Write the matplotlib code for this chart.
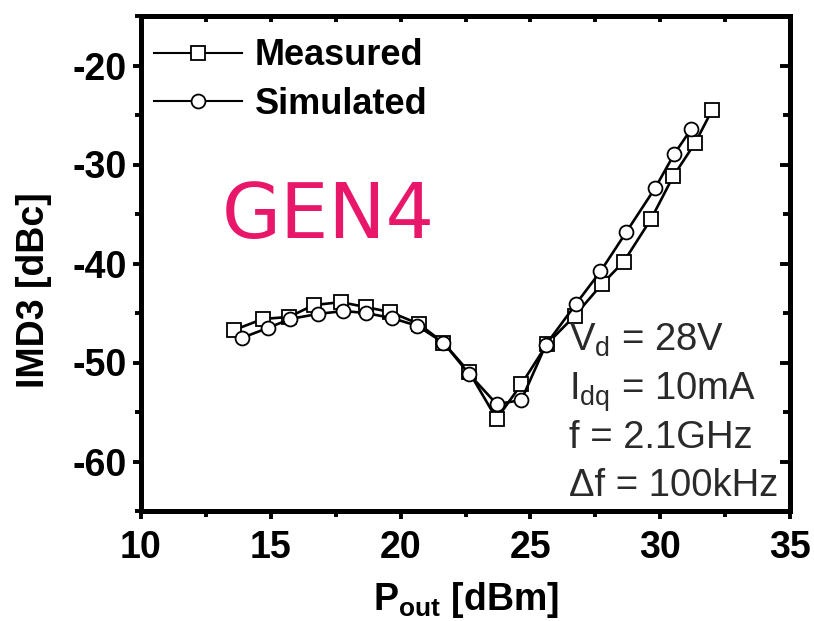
import matplotlib
matplotlib.use("Agg")
import matplotlib.pyplot as plt
from matplotlib.ticker import MultipleLocator

plt.rcParams['font.family'] = ['Liberation Sans', 'DejaVu Sans']
plt.rcParams['mathtext.fontset'] = 'custom'
plt.rcParams['mathtext.rm'] = 'Liberation Sans'
plt.rcParams['mathtext.bf'] = 'Liberation Sans:bold'
plt.rcParams['axes.unicode_minus'] = False

# Data
meas_x = [13.6, 14.7, 15.7, 16.65, 17.7, 18.65, 19.6, 20.7, 21.65, 22.65, 23.7,
          24.65, 25.65, 26.7, 27.75, 28.6, 29.65, 30.5, 31.35, 32.0]
meas_y = [-46.7, -45.6, -45.4, -44.2, -43.9, -44.4, -44.9, -46.1, -48.0, -51.0, -55.7,
          -52.2, -48.1, -45.3, -42.1, -39.8, -35.5, -31.2, -27.8, -24.5]
sim_x = [13.9, 14.9, 15.75, 16.8, 17.8, 18.65, 19.65, 20.65, 21.65, 22.65, 23.7,
         24.65, 25.6, 26.75, 27.7, 28.7, 29.8, 30.55, 31.2]
sim_y = [-47.5, -46.5, -45.6, -45.1, -44.8, -45.0, -45.5, -46.3, -48.0, -51.2, -54.2,
         -53.8, -48.2, -44.1, -40.8, -36.8, -32.4, -28.9, -26.4]
series_labels = ["Measured", "Simulated"]
xticks = [10, 15, 20, 25, 30, 35]
yticks = [-60, -50, -40, -30, -20]
notes = [r"V$_\mathregular{d}$ = 28V", r"I$_\mathregular{dq}$ = 10mA",
         "f = 2.1GHz", "\u0394f = 100kHz"]

W, H = 814, 621
fig = plt.figure(figsize=(W / 100, H / 100), dpi=100)
L, R, T, B = 141, 790, 16, 511
ax = fig.add_axes([L / W, 1 - B / H, (R - L) / W, (B - T) / H])

ax.plot(meas_x, meas_y, color='black', lw=1.9, marker='s', ms=10, mfc='white',
        mec='black', mew=1.3, label=series_labels[0], zorder=3)
ax.plot(sim_x, sim_y, color='black', lw=1.9, marker='o', ms=10, mfc='white',
        mec='black', mew=1.3, label=series_labels[1], zorder=4)

ax.set_xlim(10, 35)
ax.set_ylim(-65, -15)
ax.set_xticks(xticks)
ax.set_yticks(yticks)
ax.xaxis.set_minor_locator(MultipleLocator(2.5))
ax.yaxis.set_minor_locator(MultipleLocator(5))

for s in ax.spines.values():
    s.set_linewidth(3.6)

tickfont = dict(family='Liberation Sans', weight='bold', size=27)
ax.tick_params(axis='x', which='major', direction='out', length=6, width=2.8, pad=8)
ax.tick_params(axis='x', which='minor', direction='out', length=4, width=2.8)
ax.tick_params(axis='y', which='major', direction='out', length=6, width=2.8, pad=4)
ax.tick_params(axis='y', which='minor', direction='out', length=4, width=2.8)
for lab in ax.get_xticklabels() + ax.get_yticklabels():
    lab.set_fontproperties(matplotlib.font_manager.FontProperties(**tickfont))

secx = ax.secondary_xaxis('top')
secx.set_xticks(xticks)
secx.xaxis.set_minor_locator(MultipleLocator(2.5))
secx.tick_params(axis='x', which='both', direction='in', length=4, width=2.8,
                 labeltop=False)
secx.spines['top'].set_visible(False)
secy = ax.secondary_yaxis('right')
secy.set_yticks(yticks)
secy.yaxis.set_minor_locator(MultipleLocator(5))
secy.tick_params(axis='y', which='major', direction='in', length=7, width=2.8,
                 labelright=False)
secy.tick_params(axis='y', which='minor', direction='in', length=5, width=2.8,
                 labelright=False)
secy.spines['right'].set_visible(False)

ax.set_ylabel("IMD3 [dBc]", fontsize=27, fontweight='bold')
ax.yaxis.set_label_coords(-0.137, 0.446)
ax.set_xlabel(r"$\mathbf{P}_{\mathbf{out}}$ [dBm]", fontsize=27, fontweight='bold')
ax.xaxis.set_label_coords(0.5, -0.14)

leg = ax.legend(loc='upper left', bbox_to_anchor=(0.02, 0.955), frameon=False,
                prop=dict(family='Liberation Sans', weight='bold', size=26),
                handlelength=2.45, handletextpad=0.35, labelspacing=0.38,
                borderpad=0, borderaxespad=0)
for h in leg.get_lines():
    h.set_linewidth(1.5)

ys = [-48.8, -53.8, -58.6, -63.5]
for t, yv in zip(notes, ys):
    ax.text(26.5, yv, t, fontsize=27.5, color='#2a2a2a', va='baseline', ha='left',
            family=['Liberation Sans', 'DejaVu Sans'])

fig.text(222 / W, 1 - 238 / H, "GEN4", fontsize=55, color='#E8176A',
         family='DejaVu Sans', va='baseline', ha='left')

fig.savefig("out.png", dpi=100)
